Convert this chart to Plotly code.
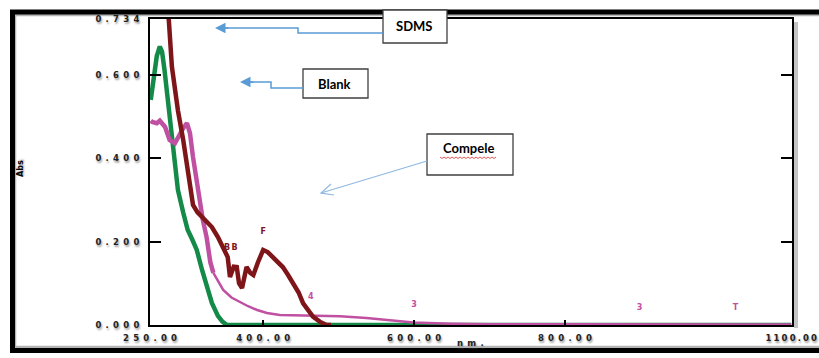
import plotly.graph_objects as go

# ---------------- data ----------------
sdms_nm = [268, 275, 279, 283, 287, 294, 299, 303, 307, 313, 319, 325, 332, 340, 346, 353, 356, 361, 365, 368, 372, 375,
           378, 383, 387, 393, 398, 400, 406, 413, 420, 426, 433, 440, 447, 453, 460, 466, 475, 484, 490]
sdms_abs = [0.86, 0.73, 0.62, 0.56, 0.515, 0.444, 0.379, 0.324, 0.288, 0.27, 0.259, 0.248, 0.235, 0.211, 0.19, 0.163,
            0.115, 0.14, 0.139, 0.10, 0.089, 0.11, 0.139, 0.125, 0.12, 0.15, 0.173, 0.18, 0.175, 0.163, 0.152, 0.139,
            0.12, 0.10, 0.078, 0.052, 0.034, 0.02, 0.008, 0.0, 0.0]

blank_nm = [251, 255, 259, 263, 266, 269, 272, 279, 283, 287, 294, 300, 306, 312, 319, 325, 332, 340, 346, 352, 360,
            400, 600, 800, 1000, 1100]
blank_abs = [0.54, 0.60, 0.645, 0.668, 0.655, 0.615, 0.563, 0.444, 0.379, 0.324, 0.27, 0.228, 0.205, 0.18, 0.132,
             0.091, 0.053, 0.022, 0.008, 0.0, 0.0, 0.0, 0.0, 0.0, 0.0, 0.0]

compele_nm = [251, 253, 259, 263, 270, 276, 283, 287, 294, 299, 303, 307, 312, 316, 320, 325, 330, 334,
              347, 358, 369, 380, 392, 405, 422, 440, 458, 480, 502, 537, 570, 599, 650, 700, 800, 900, 1000, 1100]
compele_abs = [0.49, 0.487, 0.484, 0.49, 0.475, 0.444, 0.436, 0.45, 0.472, 0.484, 0.46, 0.403, 0.34, 0.293, 0.252,
               0.211, 0.15, 0.125, 0.084, 0.066, 0.055, 0.045, 0.036, 0.029, 0.024, 0.023, 0.022, 0.022, 0.021, 0.017,
               0.011, 0.006, 0.003, 0.002, 0.002, 0.002, 0.001, 0.001]
compele_thick_until = 17  # index where the trace becomes thin

sdms_peak_nm = [352, 362, 400]
sdms_peak_abs = [0.185, 0.185, 0.223]
sdms_peak_txt = ["B", "B", "F"]
comp_peak_nm = [463, 600, 899, 1026]
comp_peak_abs = [0.067, 0.048, 0.041, 0.040]
comp_peak_txt = ["4", "3", "3", "T"]

x_ticks = [250, 400, 600, 800, 1100]
x_tick_text = ["250.00", "400.00", "600.00", "800.00", "1100.00"]
y_ticks = [0, 0.2, 0.4, 0.6, 0.734]
y_tick_text = ["0.000", "0.200", "0.400", "0.600", "0.734"]

# ---------------- styling ----------------
MAROON = "#7e1518"
GREEN = "#138a48"
MAGENTA = "#c050a2"
ARROW = "#5b9bd5"
W, H = 819, 358
L, R, T, B = 150, 27, 19, 33
PW, PH = W - L - R, H - T - B


def spaced(s, gap="\u2002"):
    return gap.join(s)


def px(xp):
    return (xp - L) / PW


def py(yp):
    return (H - B - yp) / PH


tickfont = dict(family="DejaVu Sans", size=8.5, color="#222", weight="bold",
                shadow="1px 2px 2px #9a9a9a")

x_tick_labels = [spaced(t) for t in x_tick_text[:-1]] + [spaced(x_tick_text[-1], "\u2005")]

fig = go.Figure()
fig.add_trace(go.Scatter(x=blank_nm, y=blank_abs, mode="lines", line=dict(color=GREEN, width=4.5), name="Blank"))
fig.add_trace(go.Scatter(x=compele_nm[:compele_thick_until + 1], y=compele_abs[:compele_thick_until + 1], mode="lines",
                         line=dict(color=MAGENTA, width=4.5), name="Compele"))
fig.add_trace(go.Scatter(x=compele_nm[compele_thick_until:], y=compele_abs[compele_thick_until:], mode="lines",
                         line=dict(color=MAGENTA, width=2.5), showlegend=False))
fig.add_trace(go.Scatter(x=sdms_nm, y=sdms_abs, mode="lines", line=dict(color=MAROON, width=4.5), name="SDMS"))
fig.add_trace(go.Scatter(x=sdms_peak_nm, y=sdms_peak_abs, mode="text", text=sdms_peak_txt,
                         textfont=dict(color=MAROON, size=8, family="DejaVu Sans", weight="bold"), showlegend=False))
fig.add_trace(go.Scatter(x=comp_peak_nm, y=comp_peak_abs, mode="text", text=comp_peak_txt,
                         textfont=dict(color=MAGENTA, size=8, family="DejaVu Sans", weight="bold"), showlegend=False))

fig.update_layout(
    width=W, height=H, margin=dict(l=L, r=R, t=T, b=B, pad=0, autoexpand=False),
    paper_bgcolor="white", plot_bgcolor="white", showlegend=False,
    xaxis=dict(range=[250, 1101], tickvals=x_ticks, ticktext=x_tick_labels,
               showgrid=False, zeroline=False, ticks="inside", ticklen=5, tickwidth=1.5, tickcolor="black",
               showline=True, linecolor="black", linewidth=2, mirror=True, tickfont=tickfont,
               ticklabelstandoff=4, ticklabeloverflow="allow", automargin=False),
    yaxis=dict(range=[0, 0.734], tickvals=y_ticks, ticktext=[spaced(t) for t in y_tick_text],
               showgrid=False, zeroline=False, ticks="inside", ticklen=11, tickwidth=1.5, tickcolor="black",
               showline=True, linecolor="black", linewidth=2, mirror="ticks", tickfont=tickfont,
               ticklabelstandoff=7, ticklabeloverflow="allow", automargin=False),
)

shapes = []
# outer frame
shapes.append(dict(type="rect", xref="paper", yref="paper", x0=px(15), x1=px(835), y0=py(15), y1=py(347),
                   line=dict(color="#b5b5b5", width=2.5), layer="below"))
shapes.append(dict(type="rect", xref="paper", yref="paper", x0=px(12.5), x1=px(835), y0=py(12), y1=py(350.5),
                   line=dict(color="black", width=5), layer="below"))
# plot right shadow
shapes.append(dict(type="line", xref="paper", yref="paper", x0=px(796), x1=px(796), y0=py(22), y1=py(328),
                   line=dict(color="#c4c4c4", width=4), layer="below"))
# text boxes
boxes = [(383, 10, 447, 43), (303, 69, 368, 98), (427, 134, 513, 175)]
for x0, y0, x1, y1 in boxes:
    shapes.append(dict(type="rect", xref="paper", yref="paper", x0=px(x0), x1=px(x1), y0=py(y0), y1=py(y1),
                       line=dict(color="#404040", width=1.3), fillcolor="white", layer="above"))
# elbow connectors
for pts in [[(383, 33), (298, 33), (298, 28), (225, 28)], [(303, 88), (271, 88), (271, 82), (250, 82)]]:
    path = "M " + " L ".join(f"{px(a)},{py(b)}" for a, b in pts)
    shapes.append(dict(type="path", xref="paper", yref="paper", path=path, line=dict(color=ARROW, width=1.5)))
# compele arrow (open head)
shapes.append(dict(type="line", xref="paper", yref="paper", x0=px(427), y0=py(161), x1=px(321), y1=py(193),
                   line=dict(color="#8fb8e0", width=1.2)))
shapes.append(dict(type="path", xref="paper", yref="paper",
                   path=f"M {px(331)},{py(184)} L {px(321)},{py(193)} L {px(334)},{py(195)}",
                   line=dict(color="#8fb8e0", width=1.2)))
# spell-check squiggle
sq = [(440 + i * 2, 157 + (i % 2) * 1.5) for i in range(29)]
shapes.append(dict(type="path", xref="paper", yref="paper",
                   path="M " + " L ".join(f"{px(a)},{py(b)}" for a, b in sq), line=dict(color="#e03030", width=0.8),
                   layer="above"))
fig.update_layout(shapes=shapes)

ann = []
# filled arrowheads
ann.append(dict(xref="paper", yref="paper", x=px(215), y=py(28), ax=15, ay=0, showarrow=True, arrowhead=2,
                arrowsize=1.4, arrowwidth=1.5, arrowcolor=ARROW, text=""))
ann.append(dict(xref="paper", yref="paper", x=px(240), y=py(82), ax=15, ay=0, showarrow=True, arrowhead=2,
                arrowsize=1.4, arrowwidth=1.5, arrowcolor=ARROW, text=""))
lblfont = dict(family="Lato", size=13, color="black", weight="bold")
common = dict(xref="paper", yref="paper", showarrow=False, xanchor="center", yanchor="middle")
ann.append(dict(x=px(414), y=py(26), text="SDMS", font=lblfont, **common))
ann.append(dict(x=px(334), y=py(84), text="Blank", font=lblfont, **common))
ann.append(dict(x=px(468), y=py(148), text="Compele", font=lblfont, **common))
ann.append(dict(x=px(470), y=py(343), text=spaced("nm."), font=tickfont, **common))
ann.append(dict(x=px(20), y=py(169), text="Abs", textangle=-90,
                font=dict(family="DejaVu Sans", size=8, color="black", weight="bold", shadow="1px 1px 2px #999"),
                **common))
fig.update_layout(annotations=ann)

fig.write_html("out.html", config={"displayModeBar": False},
               post_script="document.body.style.margin='0';document.body.style.overflow='hidden';")
